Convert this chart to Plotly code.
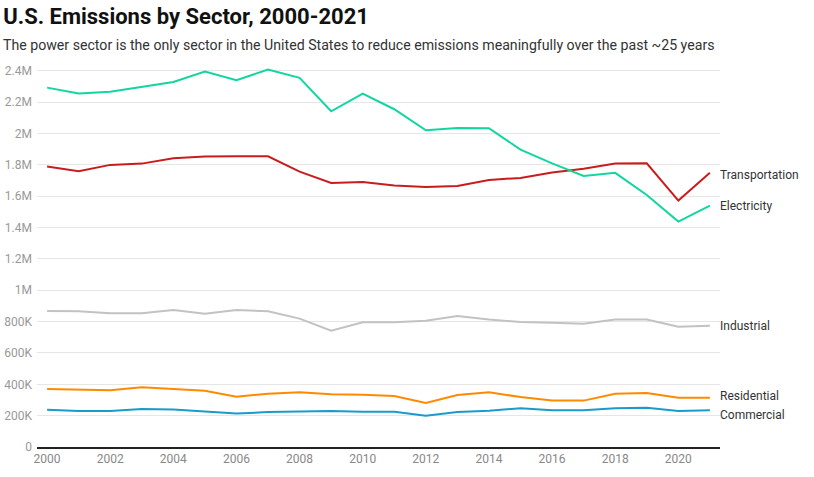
import plotly.graph_objects as go

years = list(range(2000, 2022))

electricity = [2.293, 2.255, 2.267, 2.300, 2.329, 2.395, 2.340, 2.408, 2.355, 2.142, 2.255,
               2.155, 2.021, 2.036, 2.034, 1.897, 1.810, 1.729, 1.749, 1.608, 1.438, 1.540]
transportation = [1.789, 1.759, 1.800, 1.808, 1.842, 1.853, 1.855, 1.855, 1.757, 1.685, 1.691,
                  1.668, 1.659, 1.666, 1.704, 1.717, 1.751, 1.776, 1.808, 1.810, 1.572, 1.749]
industrial = [0.868, 0.866, 0.853, 0.853, 0.874, 0.851, 0.874, 0.866, 0.819, 0.742, 0.796,
              0.796, 0.806, 0.836, 0.813, 0.798, 0.793, 0.787, 0.813, 0.813, 0.768, 0.774]
residential = [0.370, 0.364, 0.362, 0.381, 0.370, 0.359, 0.321, 0.340, 0.349, 0.336, 0.334,
               0.325, 0.281, 0.332, 0.349, 0.319, 0.296, 0.296, 0.340, 0.345, 0.315, 0.315]
commercial = [0.238, 0.230, 0.230, 0.243, 0.240, 0.228, 0.213, 0.223, 0.228, 0.230, 0.225,
              0.225, 0.200, 0.223, 0.232, 0.247, 0.234, 0.234, 0.247, 0.251, 0.230, 0.234]

y_ticks = [0, 200000, 400000, 600000, 800000, 1000000, 1200000, 1400000,
           1600000, 1800000, 2000000, 2200000, 2400000]
y_tick_labels = ["0", "200K", "400K", "600K", "800K", "1M", "1.2M", "1.4M",
                 "1.6M", "1.8M", "2M", "2.2M", "2.4M"]

# name, values (millions), colour, label nudge in px
series = [
    ("Transportation", transportation, "#c91c1c", -2),
    ("Electricity", electricity, "#11d6a0", 0),
    ("Industrial", industrial, "#c2c2c2", 0),
    ("Residential", residential, "#ff8a00", 2),
    ("Commercial", commercial, "#1a9bcb", -5),
]

fig = go.Figure()
for name, vals, color, nudge in series:
    fig.add_trace(go.Scatter(x=years, y=[v * 1e6 for v in vals], mode="lines", name=name,
                             line=dict(color=color, width=2)))
    fig.add_annotation(x=years[-1], y=vals[-1] * 1e6, text=name, showarrow=False,
                       xanchor="left", xshift=8, yshift=nudge,
                       font=dict(family="Roboto", size=12, color="#333333"))

fig.update_layout(
    width=814, height=477,
    margin=dict(l=37, r=94, t=63, b=30, autoexpand=False),
    paper_bgcolor="white", plot_bgcolor="white",
    showlegend=False,
    font=dict(family="Roboto", size=12, color="#999999"),
    title=dict(text="<b>U.S. Emissions by Sector, 2000-2021</b>", x=0.004, xanchor="left",
               y=0.966, yanchor="middle", font=dict(family="Roboto", size=22, color="#111111")),
)
fig.add_annotation(text="The power sector is the only sector in the United States to reduce emissions meaningfully over the past ~25 years",
                   xref="paper", yref="paper", x=-0.053, xanchor="left", y=1.0, yshift=18,
                   yanchor="middle", showarrow=False,
                   font=dict(family="Roboto", size=14.15, color="#333333"))

fig.update_xaxes(range=[1999.68, 2021.32], tickmode="array", tickvals=list(range(2000, 2022, 2)),
                 showgrid=False, showline=True, linecolor="#222222", linewidth=1.5,
                 ticks="", tickfont=dict(color="#888888", size=12), automargin=False)
fig.update_yaxes(range=[0, 2.45e6], tickmode="array", tickvals=y_ticks, ticktext=y_tick_labels,
                 showgrid=True, gridcolor="#e6e6e6", zeroline=False, ticks="",
                 tickfont=dict(color="#999999", size=12), ticklabelstandoff=4, automargin=False)

# page has default 8px body margin, drop it so the figure sits at the corner
fig.write_html("out.html", config={"displayModeBar": False},
               post_script="document.body.style.margin='0px';")
